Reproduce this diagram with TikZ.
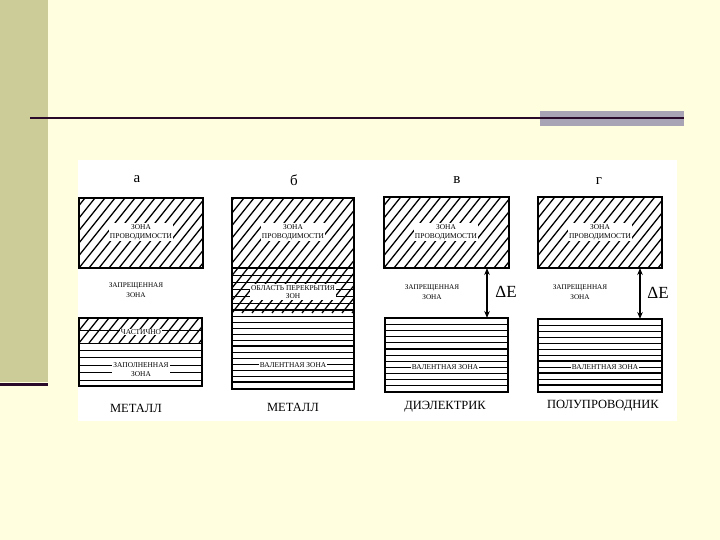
\documentclass[tikz,border=0pt]{standalone}
\usepackage{fontspec}
\setmainfont{Liberation Serif}
\usetikzlibrary{arrows.meta}
\definecolor{bgyellow}{HTML}{FFFFE0}
\definecolor{stripolive}{HTML}{CCCC99}
\definecolor{greybar}{HTML}{A9A3B6}
\definecolor{darkline}{HTML}{2A0A2A}
\tikzset{
  bandbox/.style={draw=black, line width=1.8pt, inner sep=0pt, outer sep=0pt},
  hatch/.style={line width=1.3pt},
  level/.style={line width=0.8pt},
  thicklevel/.style={line width=1.7pt},
  small/.style={font=\fontsize{7.4}{8.8}\selectfont, fill=white, inner sep=1pt, align=center},
  gaplabel/.style={font=\fontsize{7.2}{10}\selectfont, align=center, inner sep=0pt},
  coltitle/.style={font=\fontsize{15}{15}\selectfont, inner sep=0pt},
  bottomlabel/.style={font=\fontsize{12.5}{13}\selectfont, inner sep=0pt},
  delta/.style={font=\fontsize{17}{17}\selectfont, inner sep=0pt},
  gaparrow/.style={line width=1.5pt, {Stealth[length=7pt,width=5.5pt]}-{Stealth[length=7pt,width=5.5pt]}},
}
% hatch: x1, ytop, x2, ybottom
\newcommand\hatchlines[4]{%
  \begin{scope}
    \clip (#1,#2) rectangle (#3,#4);
    \foreach \k in {-110,-100,...,140} \draw[hatch] ({#1+\k},#4) -- ++(100,-125);
  \end{scope}}
% levels: x1, x2, list of y
\newcommand\levelset[3]{%
  \foreach \yy in {#3} \draw[level] (#1,\yy) -- (#2,\yy);}
\newcommand\thickset[3]{%
  \foreach \yy in {#3} \draw[thicklevel] (#1,\yy) -- (#2,\yy);}
\begin{document}
\begin{tikzpicture}[x=1pt, y=-1pt]
% background
\fill[bgyellow] (0,0) rectangle (720,540);
\useasboundingbox (0,0) rectangle (720,540);
\fill[stripolive] (0,0) rectangle (48,382);
\fill[darkline] (0,382.5) rectangle (48,386);
\fill[greybar] (540,111) rectangle (684,126);
\coordinate (rule-l) at (30,118);
\coordinate (rule-r) at (684,118);
\draw[darkline, line width=2.2pt] (rule-l) -- (rule-r);
\fill[white] (78,160) rectangle (677,421);

% ---------- column a ----------
\node[coltitle] (a-title) at (137,179) {а};
\hatchlines{79}{198}{203}{268}
\node[bandbox, minimum width=124pt, minimum height=70pt] (a-cb) at (141,233) {};
\node[small] (a-cbl) at (141,232) {ЗОНА\\ПРОВОДИМОСТИ};
\node[gaplabel] (a-gap) at (136,290) {ЗАПРЕЩЕННАЯ\\ЗОНА};
\hatchlines{79}{318}{202}{343}
\levelset{79}{202}{330,343,350,357,365,372,380}
\node[bandbox, minimum width=123pt, minimum height=68pt] (a-vb) at (140.5,352) {};
\node[small] (a-part) at (141,332) {ЧАСТИЧНО};
\node[small] (a-full) at (141,369.5) {ЗАПОЛНЕННАЯ\\ЗОНА};
\node[bottomlabel] (a-name) at (136,408) {МЕТАЛЛ};

% ---------- column b ----------
\node[coltitle] (b-title) at (294,180) {б};
\hatchlines{232}{198}{354}{313}
\levelset{232}{354}{275,282,289,296,303,316,322,328,334,340,352,358,364,370,376}
\thickset{232}{354}{268,310,346,382}
\node[bandbox, minimum width=122pt, minimum height=191pt] (b-box) at (293,293.5) {};
\node[small] (b-cbl) at (293,232) {ЗОНА\\ПРОВОДИМОСТИ};
\node[small] (b-ovl) at (293,292) {ОБЛАСТЬ ПЕРЕКРЫТИЯ\\ЗОН};
\node[small] (b-vbl) at (293,365) {ВАЛЕНТНАЯ ЗОНА};
\node[bottomlabel] (b-name) at (293,407) {МЕТАЛЛ};

% ---------- column v ----------
\node[coltitle] (v-title) at (457,180) {в};
\hatchlines{384}{197}{509}{268}
\node[bandbox, minimum width=125pt, minimum height=71pt] (v-cb) at (446.5,232.5) {};
\node[small] (v-cbl) at (446,232) {ЗОНА\\ПРОВОДИМОСТИ};
\levelset{385}{508}{324,330,336,342,355,361,367,373,379,385}
\thickset{385}{508}{349}
\node[bandbox, minimum width=123pt, minimum height=74pt] (v-vb) at (446.5,355) {};
\node[small] (v-vbl) at (445,367) {ВАЛЕНТНАЯ ЗОНА};
\node[gaplabel] (v-gap) at (432,292.5) {ЗАПРЕЩЕННАЯ\\ЗОНА};
\coordinate (v-ax) at (487,290);
\draw[gaparrow] (v-cb.south -| v-ax) -- (v-vb.north -| v-ax);
\node[delta] (v-de) at (506,292) {ΔE};
\node[bottomlabel] (v-name) at (445,407) {ДИЭЛЕКТРИК};

% ---------- column g ----------
\node[coltitle] (g-title) at (599,181) {г};
\hatchlines{538}{197}{662}{268}
\node[bandbox, minimum width=124pt, minimum height=71pt] (g-cb) at (600,232.5) {};
\node[small] (g-cbl) at (600,232) {ЗОНА\\ПРОВОДИМОСТИ};
\levelset{538}{662}{325,331,337,343,349,355,367,379}
\thickset{538}{662}{361,373,385}
\node[bandbox, minimum width=124pt, minimum height=73pt] (g-vb) at (600,355.5) {};
\node[small] (g-vbl) at (605,367) {ВАЛЕНТНАЯ ЗОНА};
\node[gaplabel] (g-gap) at (580,292.5) {ЗАПРЕЩЕННАЯ\\ЗОНА};
\coordinate (g-ax) at (640,290);
\draw[gaparrow] (g-cb.south -| g-ax) -- (g-vb.north -| g-ax);
\node[delta] (g-de) at (658,293) {ΔE};
\node[bottomlabel] (g-name) at (603,406) {ПОЛУПРОВОДНИК};
\end{tikzpicture}
\end{document}
